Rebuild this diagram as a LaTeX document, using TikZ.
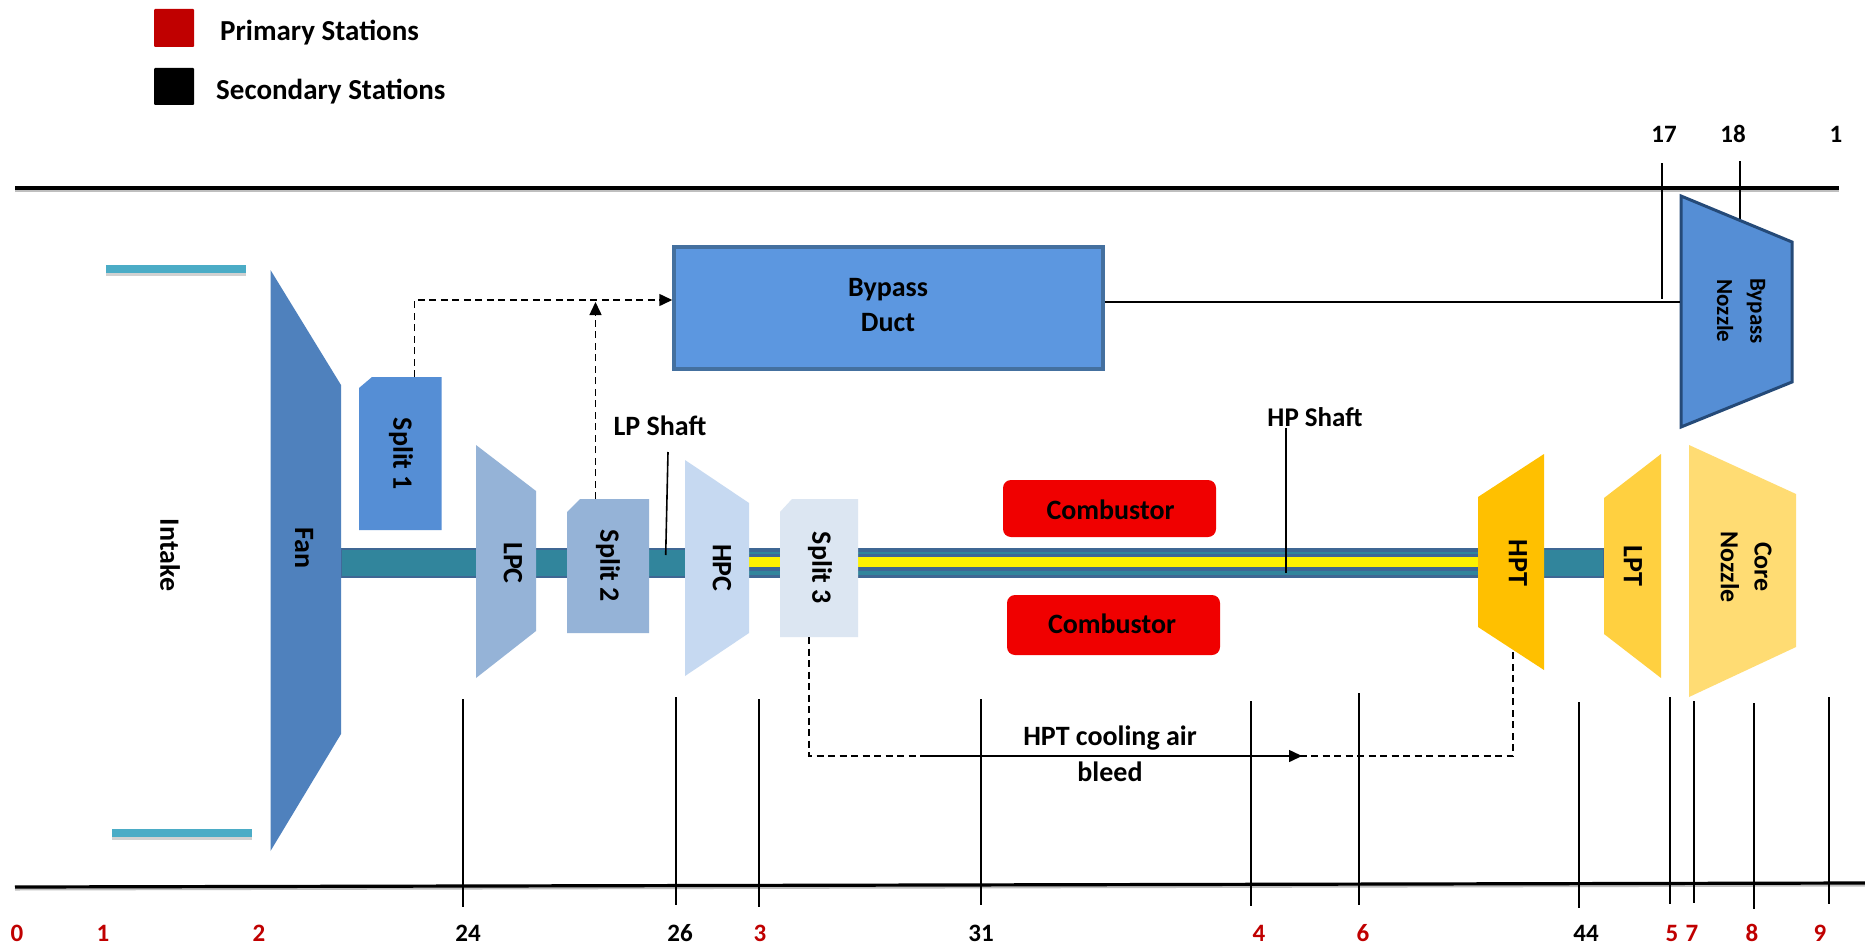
\documentclass[tikz,border=0pt]{standalone}
\usepackage{fontspec}
\setmainfont{Carlito}
\usetikzlibrary{arrows.meta}
\definecolor{fanc}{HTML}{4F81BD}
\definecolor{splitA}{HTML}{558ED5}
\definecolor{lpc}{HTML}{95B3D7}
\definecolor{hpc}{HTML}{C6D9F1}
\definecolor{splitC}{HTML}{DCE6F2}
\definecolor{hpt}{HTML}{FFC000}
\definecolor{lpt}{HTML}{FFD040}
\definecolor{corec}{HTML}{FFDC73}
\definecolor{ductc}{HTML}{5C97E0}
\definecolor{edgec}{HTML}{44709F}
\definecolor{nozedge}{HTML}{254A78}
\definecolor{teal}{HTML}{31859C}
\definecolor{shaftedge}{HTML}{3F6794}
\definecolor{barc}{HTML}{4BACC6}
\definecolor{prim}{HTML}{C00000}
\definecolor{fired}{HTML}{F00000}
\tikzset{
  x=1pt,y=-1pt,
  every node/.style={font=\fontsize{28}{34}\selectfont\bfseries,inner sep=0pt,text=black},
  part/.style={draw=none},
  vlabel/.style={rotate=-90,anchor=center},
  smalllabel/.style={vlabel,font=\fontsize{23}{28}\selectfont\bfseries},
  midlabel/.style={vlabel,font=\fontsize{26}{30}\selectfont\bfseries},
  legtext/.style={anchor=base west,font=\fontsize{29}{34}\selectfont\bfseries},
  station/.style={draw=black,line width=1.6pt},
  stnum/.style={font=\fontsize{25}{30}\selectfont\bfseries,anchor=center},
  prinum/.style={stnum,text=prim},
  wall/.style={draw=black,line width=3.2pt},
  wallshade/.style={draw=black!25,line width=3pt},
  flow/.style={draw=black,line width=1.5pt,dash pattern=on 7pt off 4.5pt},
  tiph/.style={-{Triangle[length=13pt,width=12pt]}},
  combust/.style={fill=fired,rounded corners=8pt,draw=none,anchor=center},
  leg/.style={rounded corners=1pt,draw=none},
  inbar/.style={fill=barc,draw=none},
  inshade/.style={fill=black!18,draw=none},
}
\begin{document}
\begin{tikzpicture}
\useasboundingbox (0,0) rectangle (1865,947);
\fill[white] (0,0) rectangle (1865,947);
% legend
\fill[prim,leg] (154,9) rectangle (194,47);
\fill[black,leg] (154,68) rectangle (194,105);
\node[legtext] (lp) at (220,41) {Primary Stations};
\node[legtext] (ls) at (216,100) {Secondary Stations};
% walls
\coordinate (tl) at (15,188);\coordinate (tr) at (1839,188);
\coordinate (bl) at (15,887);\coordinate (br) at (1865,883);
\draw[wallshade] ([yshift=-2]tl) -- ([yshift=-2]tr);
\draw[wallshade] ([yshift=-2]bl) -- ([yshift=-2]br);
\draw[wall] (tl) -- (tr);
\draw[wall] (bl) -- (br);
% intake bars
\fill[inshade] (106,268) rectangle (246,276);
\fill[inbar] (106,265) rectangle (246,273);
\fill[inshade] (112,832) rectangle (252,840);
\fill[inbar] (112,829) rectangle (252,837);
% shafts
\fill[teal,draw=shaftedge,line width=2pt] (341,549) rectangle (1604,577);
\fill[shaftedge] (749,548) rectangle (1478,552);
\fill[shaftedge] (749,553.5) rectangle (1478,571);
\fill[shaftedge] (749,575) rectangle (1478,578);
\fill[yellow] (749,557) rectangle (1478,567);
% station lines
\foreach \n/\xx/\ya/\yb in {s24/463/699/907,s26/676/697/905,s3/759/699/907,s31/981/699/905,s4/1251/701/906,s6/1359/693/905,s44/1579/702/908,s5/1670/697/904,s7/1694/701/903,s8/1754/703/909,s9/1829/697/904}{
  \draw[station] (\xx,\ya) coordinate (\n a) -- (\xx,\yb) coordinate (\n b);
}
\draw[station] (1662,163) coordinate (s17a) -- (1662,299) coordinate (s17b);
\draw[station] (1740,161) coordinate (s18a) -- (1740,222) coordinate (s18b);
% parts
\fill[fanc,part] (270.5,270) -- (341,385) -- (341,734) -- (270.5,851) -- cycle;
\fill[splitA,part] (372,377) -- (441.7,377) -- (441.7,530) -- (359,530) -- (359,388) -- cycle;
\fill[lpc,part] (476,445) -- (536,491) -- (536,631) -- (476,678) -- cycle;
\fill[lpc,part] (580,499) -- (649,499) -- (649,633) -- (567,633) -- (567,512) -- cycle;
\fill[hpc,part] (685,460) -- (749,503) -- (749,633) -- (685,676) -- cycle;
\fill[splitC,part] (792,499) -- (858,499) -- (858,637) -- (780,637) -- (780,512) -- cycle;
\fill[hpt,part] (1544,454) -- (1478,497) -- (1478,627) -- (1544,670) -- cycle;
\fill[lpt,part] (1661,454) -- (1604,498) -- (1604,634) -- (1661,678) -- cycle;
\fill[corec,part] (1689,445) -- (1796,494) -- (1796,647) -- (1689,697) -- cycle;
\draw[fill=splitA,draw=nozedge,line width=3pt] (1681,196) -- (1792,242) -- (1792,382) -- (1681,427) -- cycle;
% boxes
\node[fill=ductc,draw=edgec,line width=3.5pt,minimum width=429pt,minimum height=122pt,anchor=center] (duct) at (888.5,308) {};
\node[align=center] (ductlab) at (888,305) {Bypass\\[1pt]Duct};
\node[combust,minimum width=213pt,minimum height=57pt] (comb1) at (1109.5,508.5) {};
\node (c1lab) at (1110.5,509.5) {Combustor};
\node[combust,minimum width=213pt,minimum height=60pt] (comb2) at (1113.5,625) {};
\node (c2lab) at (1112,624) {Combustor};
% part labels
\node[vlabel] (intake) at (170,555) {Intake};
\node[vlabel] (fan) at (304,548) {Fan};
\node[vlabel] (sp1) at (401,454) {Split 1};
\node[vlabel] (lpclab) at (513,563) {LPC};
\node[vlabel] (sp2) at (608,566) {Split 2};
\node[vlabel] (hpclab) at (722,568) {HPC};
\node[vlabel] (sp3) at (820,568) {Split 3};
\node[vlabel] (hptlab) at (1518,563) {HPT};
\node[vlabel] (lptlab) at (1633,566) {LPT};
\node[midlabel] (corelab) at (1763,567) {Core};
\node[midlabel] (nozlab) at (1730,567) {Nozzle};
\node[smalllabel] (bylab) at (1756,311) {Bypass};
\node[smalllabel] (bnlab) at (1725,311) {Nozzle};
% shaft callouts
\node (lpshaft) at (660,426) {LP Shaft};
\node[font=\fontsize{27}{32}\selectfont\bfseries] (hpshaft) at (1315,417) {HP Shaft};
\coordinate (lpa) at (668,452);\coordinate (lpb) at (665.7,555);
\coordinate (hpa) at (1286,428);\coordinate (hpb) at (1286,573);
\draw[station] (lpa) -- (lpb);
\draw[station] (hpa) -- (hpb);
% flows
\coordinate (f1) at (414.4,377);\coordinate (f1c) at (414.4,300);
\coordinate (f2) at (595.5,499);\coordinate (f2e) at (595.5,302);
\draw[flow,tiph] (f1) -- (f1c) -- (duct.west |- f1c);
\draw[flow,tiph] (f2) -- (f2e);
\coordinate (noz) at (1680,302);
\draw[draw=black,line width=1.6pt] (duct.east |- noz) -- (noz);
\coordinate (b1) at (809,637);\coordinate (b2) at (809,756);\coordinate (b3) at (1513,756);\coordinate (b4) at (1513,650);\coordinate (bm) at (1302,756);\coordinate (bs) at (922,756);
\draw[flow] (b1) -- (b2) -- (b3) -- (b4);
\draw[draw=black,line width=1.5pt,tiph] (bs) -- (bm);
\node (bleed) at (1110,753.5) [align=center] {HPT cooling air\\[2pt]bleed};
% station numbers
\node[stnum] (n17) at (1664,134) {17};
\node[stnum] (n18) at (1733,134) {18};
\node[stnum] (n1t) at (1836,134) {1};
\foreach \n/\t/\xx in {a0/0/17,a1/1/103,a2/2/259,a3/3/760,a4/4/1259,a6/6/1363,a5/5/1672,a7/7/1692,a8/8/1752,a9/9/1820}{
  \node[prinum] (\n) at (\xx,933) {\t};
}
\foreach \n/\t/\xx in {b24/24/468,b26/26/680,b31/31/981,b44/44/1586}{
  \node[stnum] (\n) at (\xx,933) {\t};
}
\end{tikzpicture}
\end{document}
